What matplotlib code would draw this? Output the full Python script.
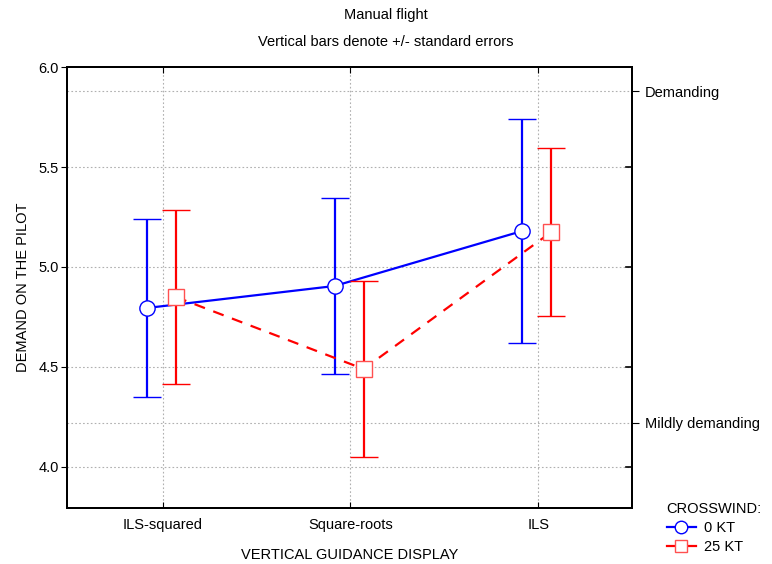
import matplotlib.pyplot as plt
from matplotlib.lines import Line2D
import numpy as np

plt.rcParams["font.family"] = ["Liberation Sans", "DejaVu Sans"]
plt.rcParams["font.size"] = 10.5

displays = ["ILS-squared", "Square-roots", "ILS"]
mean_0kt = [4.795, 4.905, 5.18]
se_0kt = [0.445, 0.44, 0.56]
mean_25kt = [4.85, 4.49, 5.175]
se_25kt = [0.435, 0.44, 0.42]
right_ticks = [5.88, 4.22]
right_labels = ["Demanding", "Mildly demanding"]

x = np.arange(len(displays))

fig = plt.figure(figsize=(7.72, 5.64), dpi=100)
ax = fig.add_axes([0.0868, 0.0993, 0.7319, 0.7819])

ax.errorbar(x - 0.085, mean_0kt, yerr=se_0kt, color="#0000ff", lw=1.6,
            marker="o", ms=11, mfc="white", mec="#0000ff", mew=1.0,
            capsize=10, capthick=1.6, elinewidth=1.6, zorder=3)
eb1 = ax.errorbar(x + 0.07, mean_25kt, yerr=se_25kt, color="#ff0000", lw=1.6,
                  ls=(0, (5, 4)), marker="s", ms=11.5, mfc="white", mec="#ff5050",
                  mew=1.0, capsize=10, capthick=1.6, elinewidth=1.6, zorder=4)
eb1[2][0].set_linestyle("-")

ax.set_xlim(-0.51, 2.5)
ax.set_ylim(3.795, 6.0)
ax.set_xticks(x)
ax.set_xticklabels(displays)
ax.set_yticks([4.0, 4.5, 5.0, 5.5, 6.0])
ax.yaxis.set_major_formatter(plt.FormatStrFormatter("%.1f"))
ax.tick_params(axis="x", direction="in", top=True, length=4, pad=7)
ax.tick_params(axis="y", direction="out", right=False, length=4, pad=2)
for s in ax.spines.values():
    s.set_linewidth(1.4)

# inward ticks on right spine at the main y values
for yv in [4.0, 4.5, 5.0, 5.5, 6.0]:
    ax.plot([1, 0.99], [yv, yv], transform=ax.get_yaxis_transform(),
            color="black", lw=1.2, clip_on=False)

ax2 = ax.twinx()
ax2.set_ylim(ax.get_ylim())
ax2.set_yticks(right_ticks)
ax2.set_yticklabels(right_labels)
ax2.tick_params(axis="y", direction="out", length=5, pad=4)
for s in ax2.spines.values():
    s.set_linewidth(1.4)

grid_kw = dict(color="#b0b0b0", lw=0.8, ls=(0, (1.5, 2)), zorder=0)
for yv in [4.0, 4.5, 5.0, 5.5] + right_ticks:
    ax.axhline(yv, **grid_kw)
for xv in x:
    ax.axvline(xv, **grid_kw)

ax.set_xlabel("VERTICAL GUIDANCE DISPLAY", labelpad=12)
ax.set_ylabel("DEMAND ON THE PILOT", labelpad=6)

fig.text(0.5, 0.973, "Manual flight", ha="center", va="center")
fig.text(0.5, 0.925, "Vertical bars denote +/- standard errors", ha="center", va="center")

h0 = Line2D([], [], color="#0000ff", lw=1.6, marker="o", ms=9, mfc="white", mec="#0000ff")
h1 = Line2D([], [], color="#ff0000", lw=1.6, marker="s", ms=9, mfc="white", mec="#ff5050")
leg = fig.legend(handles=[h0, h1], labels=["0 KT", "25 KT"], title="CROSSWIND:",
                 loc="upper left", bbox_to_anchor=(0.854, 0.123), frameon=False,
                 handlelength=2.0, handletextpad=0.6, labelspacing=0.35,
                 borderpad=0, title_fontsize=10.5)
leg._legend_box.align = "left"

fig.savefig("out.png", dpi=100)
